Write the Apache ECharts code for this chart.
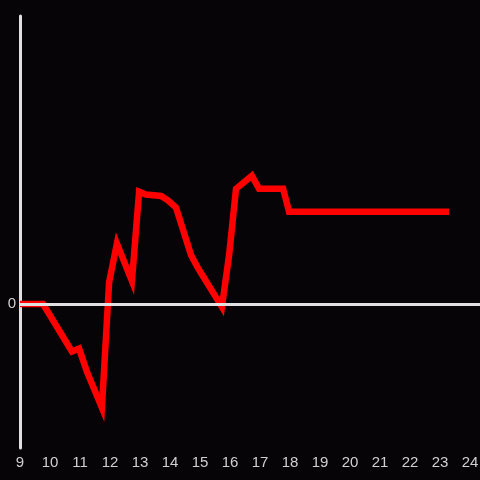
<!DOCTYPE html>
<html>
<head>
<meta charset="utf-8">
<script src="https://cdn.jsdelivr.net/npm/echarts@6/dist/echarts.min.js"></script>
<style>
  html, body { margin: 0; padding: 0; background: #060407; }
  #chart { width: 480px; height: 480px; }
</style>
</head>
<body>
<div id="chart"></div>
<script>
// hour of day
var hours = [9, 9.77, 10.73, 10.97, 11.23, 11.73, 11.97, 12.23, 12.73, 12.97, 13.2, 13.7, 13.93, 14.2,
  14.7, 14.93, 15.73, 15.97, 16.2, 16.73, 16.97, 17.77, 17.97, 23.3];
var values = [0, 0, -0.33, -0.31, -0.47, -0.72, 0.15, 0.42, 0.16, 0.78, 0.76, 0.75, 0.72, 0.67,
  0.34, 0.25, -0.02, 0.34, 0.8, 0.89, 0.8, 0.8, 0.64, 0.64];

var data = [];
for (var i = 0; i < hours.length; i++) {
  data.push([hours[i], values[i]]);
}

var chart = echarts.init(document.getElementById('chart'));
chart.setOption({
  backgroundColor: '#060407',
  animation: false,
  grid: { left: 20, right: 0, top: 16, bottom: 32, containLabel: false, outerBoundsMode: 'none' },
  xAxis: {
    type: 'value',
    min: 9,
    max: 24.333,
    interval: 1,
    axisLine: { show: false },
    axisTick: { show: false },
    splitLine: { show: false },
    axisLabel: {
      color: '#d0d0d0',
      fontSize: 15,
      margin: 7,
      formatter: function (v) { return Number.isInteger(v) ? String(v) : ''; }
    }
  },
  yAxis: {
    type: 'value',
    min: -1,
    max: 2,
    interval: 1,
    axisLine: { show: true, lineStyle: { color: '#e0e0e0', width: 3 } },
    axisTick: { show: false },
    splitLine: { show: false },
    axisLabel: {
      color: '#d0d0d0',
      fontSize: 15,
      margin: 4,
      formatter: function (v) { return v === 0 ? '0' : ''; }
    }
  },
  series: [{
    type: 'line',
    data: data,
    symbol: 'none',
    lineStyle: { color: '#ff0000', width: 6.5, join: 'miter', cap: 'butt' },
    markLine: {
      silent: true,
      symbol: 'none',
      label: { show: false },
      lineStyle: { color: '#e0e0e0', width: 3, type: 'solid' },
      data: [{ yAxis: 0 }]
    },
    z: 3
  }]
});
</script>
</body>
</html>
